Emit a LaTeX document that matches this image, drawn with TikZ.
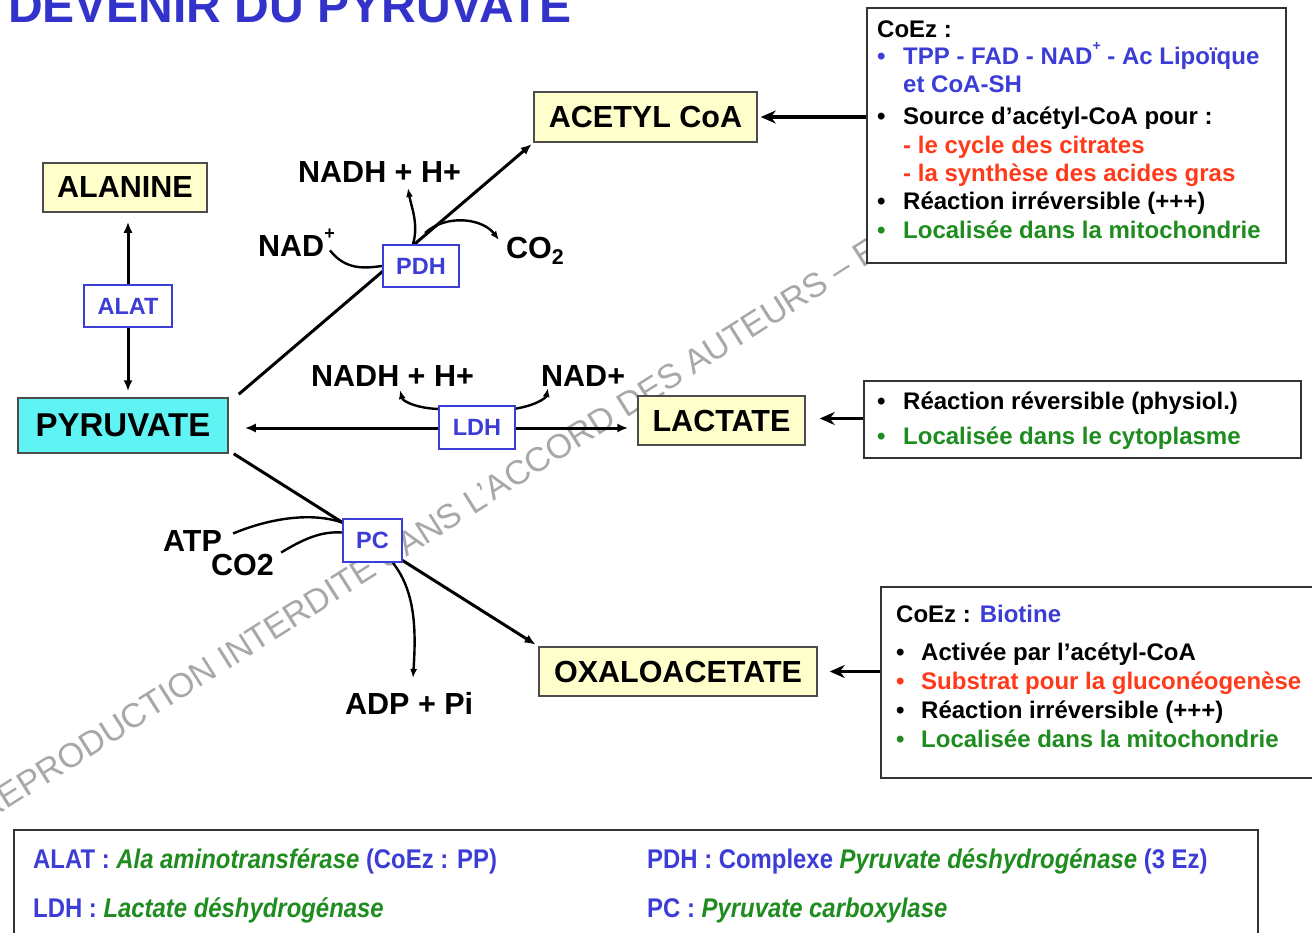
\documentclass[tikz,border=0pt]{standalone}
\usepackage{fontspec}
\setmainfont{Liberation Sans}
\newfontfamily\narrowfont[FakeStretch=0.885]{Liberation Sans}
\usetikzlibrary{arrows.meta,calc,backgrounds}
\definecolor{tblue}{HTML}{3333CC}
\definecolor{eblue}{HTML}{3C3CD6}
\definecolor{ered}{HTML}{FF3A1A}
\definecolor{egreen}{HTML}{1E8C1E}
\definecolor{myyellow}{HTML}{FFFFCC}
\definecolor{mycyan}{HTML}{5FF3F3}
\definecolor{wmgray}{HTML}{A8A8A8}
\newcommand\fsz[1]{\fontsize{#1}{#1}\selectfont}
\newcommand\supplus[1]{\raisebox{0.55em}{\fsz{#1}+}}
\pgfdeclarelayer{wm}
\pgfsetlayers{wm,background,main}
\tikzset{
  metab/.style={draw=black!70, line width=1.5pt, fill=myyellow, font=\bfseries\fsz{30.5}, inner sep=0pt},
  enz/.style={draw=eblue, line width=2pt, fill=white, text=eblue, font=\bfseries\fsz{23.5}, inner sep=0pt},
  lab/.style={anchor=base west, font=\bfseries\fsz{30.5}, inner sep=0pt},
  conn/.style={line width=3pt, -{Latex[length=11pt,width=9pt]}},
  curv/.style={line width=2.4pt},
  curvar/.style={line width=2.4pt, -{Latex[length=9pt,width=7pt]}},
  notebox/.style={draw=black!80, line width=1.6pt, fill=white, inner sep=0pt},
  nt/.style={anchor=base west, font=\bfseries\fsz{24}, inner sep=0pt},
  notearrow/.style={line width=3.2pt, -{Stealth[length=15pt,width=13pt]}},
  leg/.style={anchor=base west, font=\narrowfont\bfseries\fsz{27}, inner sep=0pt},
}
\begin{document}
\begin{tikzpicture}[x=1pt,y=-1pt]
\useasboundingbox (0,0) rectangle (1312,932);

% white page and watermark
\begin{pgfonlayer}{wm}
\fill[white] (0,0) rectangle (1312,932);
\node[rotate=32.3, anchor=base west, text=wmgray, font=\fsz{34}, inner sep=0pt] (wmark) at (-14,823) {REPRODUCTION INTERDITE SANS L’ACCORD DES AUTEURS – E};
\end{pgfonlayer}

% title
\node[anchor=base west, text=tblue, font=\bfseries\fsz{48}, inner sep=0pt] (title) at (8,22) {DEVENIR DU PYRUVATE};

% metabolites
\node[metab, minimum width=164pt, minimum height=49pt] (alanine) at (125,187.5) {ALANINE};
\node[metab, fill=mycyan, font=\bfseries\fsz{33}, minimum width=210pt, minimum height=55pt] (pyruvate) at (123,425.5) {PYRUVATE};
\node[metab, minimum width=223pt, minimum height=50pt] (acetyl) at (645.5,117) {ACETYL CoA};
\node[metab, minimum width=167pt, minimum height=49pt] (lactate) at (721.5,420.5) {LACTATE};
\node[metab, minimum width=278pt, minimum height=49pt] (oxalo) at (678,671.5) {OXALOACETATE};

% enzymes
\node[enz, minimum width=88pt, minimum height=42pt] (alat) at (128,306) {ALAT};
\node[enz, minimum width=76pt, minimum height=42pt] (pdh) at (421,266) {PDH};
\node[enz, minimum width=76pt, minimum height=43pt] (ldh) at (477,427.5) {LDH};
\node[enz, minimum width=59pt, minimum height=43pt] (pc) at (372.5,540.5) {PC};

% labels
\node[lab] (nadh1) at (298,182) {NADH + H+};
\node[lab] (nad1) at (258,256) {NAD\supplus{18}};
\node[lab] (co2a) at (506,258) {CO\textsubscript{2}};
\node[lab] (nadh2) at (311,386) {NADH + H+};
\node[lab] (nad2) at (541,386) {NAD+};
\node[lab] (atp) at (163,551) {ATP};
\node[lab] (co2b) at (211,575) {CO2};
\node[lab] (adp) at (345,714) {ADP + Pi};

\coordinate (nadhtip) at (408,188);
\coordinate (co2tip) at (499,240);
\coordinate (nadhtip2) at (400,390);
\coordinate (nadtip2) at (548,388);
\coordinate (adptip) at (413,678);

% connectors (behind the enzyme boxes)
\begin{pgfonlayer}{background}
\draw[conn] (alat.center) -- ($(alat.center |- alanine.south)+(0,9)$);
\draw[conn] (alat.center) -- ($(alat.center |- pyruvate.north)+(0,-6)$);
\draw[conn, shorten >=2pt] ($(pyruvate.north east)+(10,-3)$) -- (acetyl.south west);
\draw[line width=3pt, {Latex[length=11pt,width=9pt]}-{Latex[length=11pt,width=9pt]}, shorten <=16pt, shorten >=9pt]
  ($(pyruvate.east)+(0,2.5)$) coordinate (pl) -- (pl -| lactate.west);
\draw[conn, shorten >=3pt] ($(pyruvate.south east)+(5,0)$) -- (oxalo.north west);
% PDH side reactions
\draw[curv] ($(nad1.east)+(-5,8)$) .. controls (346,271) and (366,268) .. (pdh.west);
\draw[curvar] ($(pdh.north)+(-8,0)$) .. controls (419,224) and (411,206) .. (nadhtip);
\draw[curvar] (425,233) .. controls (446,214) and (482,218) .. (co2tip);
% LDH side reactions
\draw[curvar] ($(ldh.north west)+(3,4)$) .. controls (420,409) and (403,402) .. (nadhtip2);
\draw[curvar] ($(ldh.north east)+(-3,4)$) .. controls (535,406) and (546,398) .. (nadtip2);
% PC side reactions
\draw[curv] ($(atp.east)+(11,-7)$) .. controls (270,518) and (312,512) .. ($(pc.west)+(0,-18)$);
\draw[curv] ($(co2b.east)+(7,-12)$) .. controls (302,540) and (320,531) .. ($(pc.west)+(0,-8)$);
\draw[curvar] ($(pc.south east)+(-10,0)$) .. controls (416,592) and (416,632) .. (adptip);
\end{pgfonlayer}

% note boxes
\node[notebox, minimum width=419pt, minimum height=255pt] (note1) at (1076.5,135.5) {};
\node[nt] (n1a) at (877,37) {CoEz :};
\node[nt, text=eblue] (n1b) at (877,64) {•};
\node[nt, text=eblue] (n1c) at (903,64) {TPP - FAD - NAD\supplus{14} - Ac Lipoïque};
\node[nt, text=eblue] (n1d) at (903,92) {et CoA-SH};
\node[nt] (n1e) at (877,124) {•};
\node[nt] (n1f) at (903,124) {Source d’acétyl-CoA pour :};
\node[nt, text=ered] (n1g) at (903,153) {- le cycle des citrates};
\node[nt, text=ered] (n1h) at (903,181) {- la synthèse des acides gras};
\node[nt] (n1i) at (877,209) {•};
\node[nt] (n1j) at (903,209) {Réaction irréversible (+++)};
\node[nt, text=egreen] (n1k) at (877,238) {•};
\node[nt, text=egreen] (n1l) at (903,238) {Localisée dans la mitochondrie};

\node[notebox, minimum width=437pt, minimum height=77pt] (note2) at (1082.5,419.5) {};
\node[nt] (n2a) at (877,409) {•};
\node[nt] (n2b) at (903,409) {Réaction réversible (physiol.)};
\node[nt, text=egreen] (n2c) at (877,444) {•};
\node[nt, text=egreen] (n2d) at (903,444) {Localisée dans le cytoplasme};

\node[notebox, minimum width=450pt, minimum height=191pt] (note3) at (1106,682.5) {};
\node[nt] (n3a) at (896,622) {CoEz : \textcolor{eblue}{Biotine}};
\node[nt] (n3b) at (896,660) {•};
\node[nt] (n3c) at (921,660) {Activée par l’acétyl-CoA};
\node[nt, text=ered] (n3d) at (896,689) {•};
\node[nt, text=ered] (n3e) at (921,689) {Substrat pour la gluconéogenèse};
\node[nt] (n3f) at (896,718) {•};
\node[nt] (n3g) at (921,718) {Réaction irréversible (+++)};
\node[nt, text=egreen] (n3h) at (896,747) {•};
\node[nt, text=egreen] (n3i) at (921,747) {Localisée dans la mitochondrie};

\draw[notearrow, shorten >=3pt] (note1.west |- acetyl.east) -- (acetyl.east);
\draw[notearrow, shorten >=14pt] ($(note2.west |- lactate.east)+(0,-2)$) coordinate (l2) -- (l2 -| lactate.east);
\draw[notearrow, shorten >=12pt] (note3.west |- oxalo.east) -- (oxalo.east);

% legend
\node[notebox, minimum width=1244pt, minimum height=120pt] (legend) at (636,890) {};
\node[leg] (g1) at (33,868) {\textcolor{eblue}{ALAT :} \textcolor{egreen}{\itshape Ala aminotransférase} \textcolor{eblue}{(CoEz : PP)}};
\node[leg] (g2) at (647,868) {\textcolor{eblue}{PDH : Complexe} \textcolor{egreen}{\itshape Pyruvate déshydrogénase} \textcolor{eblue}{(3 Ez)}};
\node[leg] (g3) at (33,917) {\textcolor{eblue}{LDH :} \textcolor{egreen}{\itshape Lactate déshydrogénase}};
\node[leg] (g4) at (647,917) {\textcolor{eblue}{PC :} \textcolor{egreen}{\itshape Pyruvate carboxylase}};
\end{tikzpicture}
\end{document}
